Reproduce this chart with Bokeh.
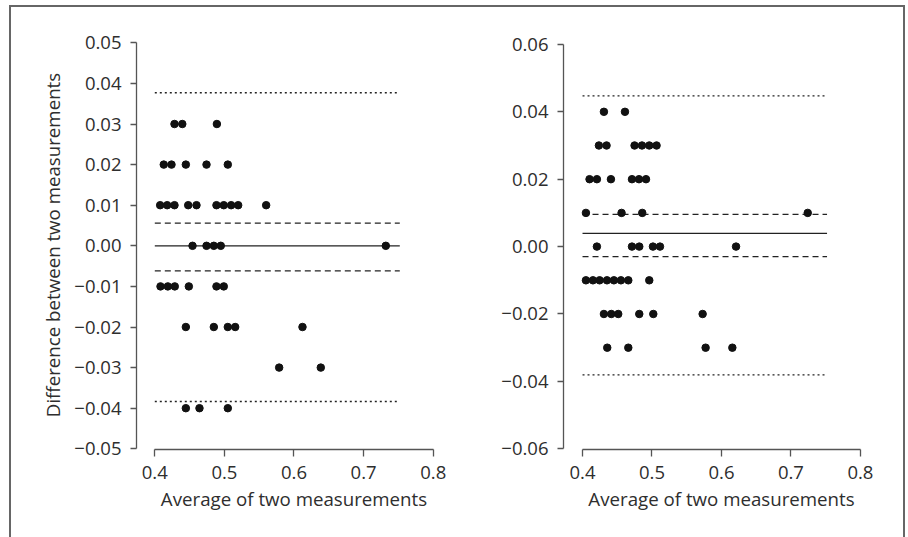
from bokeh.plotting import figure
from bokeh.layouts import row
from bokeh.models import FixedTicker, Range1d
from bokeh.embed import file_html
from bokeh.resources import INLINE

# ---------------- data ----------------
left_x = [0.4283, 0.4395, 0.4892,
          0.4129, 0.4240, 0.4446, 0.4743, 0.5049,
          0.4077, 0.4178, 0.4283, 0.4480, 0.4599, 0.4886, 0.4991, 0.5097, 0.5198, 0.5600,
          0.4542, 0.4743, 0.4848, 0.4948, 0.7319,
          0.4082, 0.4187, 0.4287, 0.4489, 0.4886, 0.4991,
          0.4446, 0.4848, 0.5049, 0.5155, 0.6122,
          0.5787, 0.6385,
          0.4446, 0.4642, 0.5049]
left_y = [0.03, 0.03, 0.03,
          0.02, 0.02, 0.02, 0.02, 0.02,
          0.01, 0.01, 0.01, 0.01, 0.01, 0.01, 0.01, 0.01, 0.01, 0.01,
          0.00, 0.00, 0.00, 0.00, 0.00,
          -0.01, -0.01, -0.01, -0.01, -0.01, -0.01,
          -0.02, -0.02, -0.02, -0.02, -0.02,
          -0.03, -0.03,
          -0.04, -0.04, -0.04]

right_x = [0.4308, 0.4611,
           0.4236, 0.4346, 0.4749, 0.4856, 0.4961, 0.5066,
           0.4101, 0.4207, 0.4409, 0.4712, 0.4813, 0.4914,
           0.4049, 0.4562, 0.4860, 0.7242,
           0.4207, 0.4712, 0.4817, 0.5014, 0.5115, 0.6210,
           0.4049, 0.4150, 0.4246, 0.4352, 0.4452, 0.4553, 0.4659, 0.4961,
           0.4308, 0.4414, 0.4514, 0.4817, 0.5019, 0.5729,
           0.4356, 0.4659, 0.5772, 0.6157]
right_y = [0.04, 0.04,
           0.03, 0.03, 0.03, 0.03, 0.03, 0.03,
           0.02, 0.02, 0.02, 0.02, 0.02, 0.02,
           0.01, 0.01, 0.01, 0.01,
           0.00, 0.00, 0.00, 0.00, 0.00, 0.00,
           -0.01, -0.01, -0.01, -0.01, -0.01, -0.01, -0.01, -0.01,
           -0.02, -0.02, -0.02, -0.02, -0.02, -0.02,
           -0.03, -0.03, -0.03, -0.03]

# reference lines: mean, inner (dashed) band, limits of agreement (dotted)
line_extent = [0.40, 0.752]
left_mean = 0.0
left_dashed = [0.00557, -0.00616]
left_dotted = [0.0377, -0.03835]
right_mean = 0.00395
right_dashed = [0.00959, -0.00297]
right_dotted = [0.04472, -0.03807]

x_ticks = [0.4, 0.5, 0.6, 0.7, 0.8]
x_labels = ["0.4", "0.5", "0.6", "0.7", "0.8"]
left_y_ticks = [-0.05, -0.04, -0.03, -0.02, -0.01, 0.0, 0.01, 0.02, 0.03, 0.04, 0.05]
left_y_labels = ["\u22120.05", "\u22120.04", "\u22120.03", "\u22120.02", "\u22120.01",
                 "0.00", "0.01", "0.02", "0.03", "0.04", "0.05"]
right_y_ticks = [-0.06, -0.04, -0.02, 0.0, 0.02, 0.04, 0.06]
right_y_labels = ["\u22120.06", "\u22120.04", "\u22120.02", "0.00", "0.02", "0.04", "0.06"]

x_title = "Average of two measurements"
y_title = "Difference between two measurements"

FONT = "Open Sans"
TICK_SIZE = "18.5px"
TITLE_SIZE = "18.7px"
INK = "#222222"
AXIS = "#555555"
TXT = "#2e2e2e"


def make_panel(xs, ys, mean, dashed, dotted, yticks, ylabels, ybounds,
               xr, yr, width, mbl, mbr, ylab):
    p = figure(width=width, height=530, output_backend="svg", toolbar_location=None,
               x_range=Range1d(*xr), y_range=Range1d(*yr),
               min_border_left=mbl, min_border_right=mbr,
               min_border_top=33, min_border_bottom=88)
    p.outline_line_color = None
    p.grid.visible = False
    p.background_fill_color = "white"
    p.border_fill_color = "white"

    p.line(line_extent, [mean, mean], line_color=INK, line_width=1.3)
    for v in dashed:
        p.line(line_extent, [v, v], line_color=INK, line_width=1.3, line_dash="6 4")
    for v in dotted:
        p.line(line_extent, [v, v], line_color=INK, line_width=1.3, line_dash="2 3")
    p.scatter(xs, ys, size=7.5, fill_color="#111111", line_color="#111111")

    for ax in (p.xaxis[0], p.yaxis[0]):
        ax.axis_line_color = AXIS
        ax.axis_line_width = 1.3
        ax.major_tick_line_color = AXIS
        ax.major_tick_line_width = 1.3
        ax.major_tick_in = 0
        ax.minor_tick_line_color = None
        ax.major_label_text_font = FONT
        ax.major_label_text_font_size = TICK_SIZE
        ax.major_label_text_color = TXT
        ax.axis_label_text_font = FONT
        ax.axis_label_text_font_size = TITLE_SIZE
        ax.axis_label_text_font_style = "normal"
        ax.axis_label_text_color = TXT

    xa = p.xaxis[0]
    xa.ticker = FixedTicker(ticks=x_ticks)
    xa.major_label_overrides = dict(zip(x_ticks, x_labels))
    xa.bounds = (x_ticks[0], x_ticks[-1])
    xa.major_tick_out = 7
    xa.major_label_standoff = 9
    xa.axis_label = x_title
    xa.axis_label_standoff = 4

    ya = p.yaxis[0]
    ya.ticker = FixedTicker(ticks=yticks)
    ya.major_label_overrides = dict(zip(yticks, ylabels))
    ya.bounds = ybounds
    ya.major_tick_out = 6
    ya.major_label_standoff = 9
    if ylab:
        ya.axis_label = ylab
        ya.axis_label_standoff = 6
    return p


p1 = make_panel(left_x, left_y, left_mean, left_dashed, left_dotted,
                left_y_ticks, left_y_labels, (-0.05, 0.05),
                (0.37371, 0.8263), (-0.050172, 0.050567), 447, 125, 7, y_title)
p2 = make_panel(right_x, right_y, right_mean, right_dashed, right_dotted,
                right_y_ticks, right_y_labels, (-0.06, 0.06),
                (0.37262, 0.82752), (-0.060208, 0.061157), 445, 105, 24, None)

layout = row(p1, p2, styles={"border-top": "2px solid #666666",
                             "border-left": "2px solid #666666",
                             "border-right": "2px solid #666666",
                             "margin-left": "9px", "margin-top": "5px",
                             "background": "white"})

open("out.html", "w").write(file_html(layout, INLINE))
